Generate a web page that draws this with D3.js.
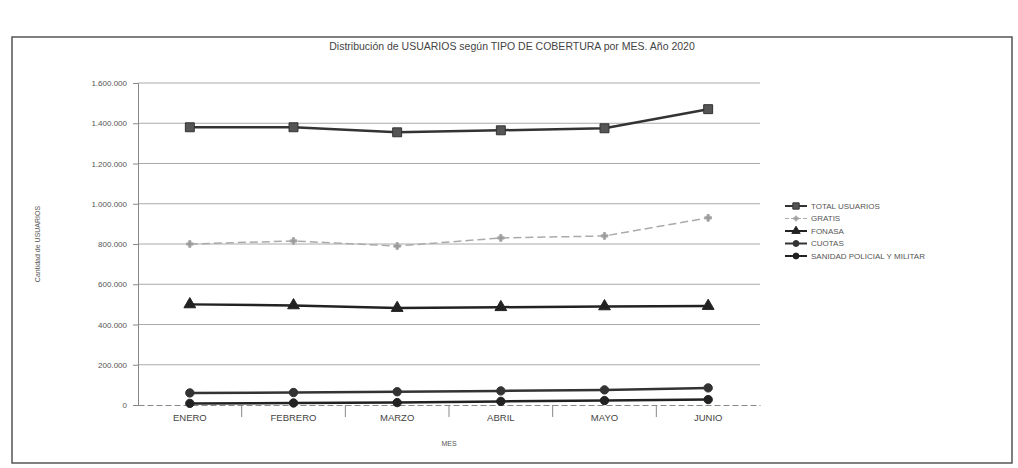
<!DOCTYPE html>
<html>
<head>
<meta charset="utf-8">
<script src="https://cdn.jsdelivr.net/npm/d3@7"></script>
<style>
  body { margin: 0; background: #fff; }
  svg { font-family: "Liberation Sans", Arial, sans-serif; }
</style>
</head>
<body>
<div id="wrapper"></div>
<script>
const months = ["ENERO", "FEBRERO", "MARZO", "ABRIL", "MAYO", "JUNIO"];
const totalUsuarios = [1380000, 1380000, 1355000, 1365000, 1375000, 1470000];
const gratis = [800000, 815000, 790000, 830000, 840000, 930000];
const fonasa = [500000, 495000, 482000, 486000, 490000, 492000];
const cuotas = [60000, 62000, 66000, 70000, 75000, 85000];
const sanidad = [8000, 10000, 12000, 18000, 22000, 27000];
const yTicks = [0, 200000, 400000, 600000, 800000, 1000000, 1200000, 1400000, 1600000];
const seriesNames = ["TOTAL USUARIOS", "GRATIS", "FONASA", "CUOTAS", "SANIDAD POLICIAL Y MILITAR"];

function drawChart() {
    const dimensions = {
        width: 1018,
        height: 468,
        margin: { top: 83, right: 258, bottom: 63, left: 138 },
    }
    dimensions.boundedWidth = dimensions.width - dimensions.margin.left - dimensions.margin.right
    dimensions.boundedHeight = dimensions.height - dimensions.margin.top - dimensions.margin.bottom

    const svg = d3.select("#wrapper")
        .append("svg")
        .attr("width", dimensions.width)
        .attr("height", dimensions.height);

    // frame of the scanned chart
    svg.append("rect")
        .attr("x", 12).attr("y", 37)
        .attr("width", 1000).attr("height", 426)
        .attr("fill", "none")
        .attr("stroke", "#555")
        .attr("stroke-width", 1.5);

    svg.append("text")
        .attr("x", 512).attr("y", 50)
        .attr("text-anchor", "middle")
        .attr("font-size", "10.5px")
        .attr("fill", "#444")
        .text("Distribución de USUARIOS según TIPO DE COBERTURA por MES. Año 2020");

    const bounds = svg.append("g")
        .attr("transform", `translate(${dimensions.margin.left},${dimensions.margin.top})`);

    const xScale = d3.scaleBand()
        .domain(months)
        .range([0, dimensions.boundedWidth]);

    const yScale = d3.scaleLinear()
        .domain([0, 1600000])
        .range([dimensions.boundedHeight, 0]);

    const locale = d3.formatLocale({ decimal: ",", thousands: ".", grouping: [3], currency: ["$", ""] });
    const fmt = locale.format(",d");

    // gridlines
    bounds.append("g")
        .selectAll("line")
        .data(yTicks.filter(d => d > 0))
        .join("line")
        .attr("x1", 0)
        .attr("x2", dimensions.boundedWidth)
        .attr("y1", d => yScale(d))
        .attr("y2", d => yScale(d))
        .attr("stroke", "#aaa")
        .attr("stroke-width", 1);

    const yAxis = bounds.append("g")
        .call(d3.axisLeft(yScale).tickValues(yTicks).tickFormat(fmt).tickSize(5).tickPadding(6));
    yAxis.select(".domain").attr("stroke", "#888");
    yAxis.selectAll(".tick line").attr("stroke", "#888");
    yAxis.selectAll("text").attr("font-size", "8px").attr("fill", "#555");

    const xAxis = bounds.append("g")
        .attr("transform", `translate(0,${dimensions.boundedHeight})`)
        .call(d3.axisBottom(xScale).tickSize(0).tickPadding(9));
    xAxis.select(".domain").attr("stroke", "#888").attr("stroke-dasharray", "6 3");
    xAxis.selectAll("text").attr("font-size", "9.5px").attr("fill", "#444");

    // separators between categories
    bounds.append("g")
        .selectAll("line")
        .data(months.slice(1))
        .join("line")
        .attr("x1", d => xScale(d))
        .attr("x2", d => xScale(d))
        .attr("y1", dimensions.boundedHeight)
        .attr("y2", dimensions.boundedHeight + 12)
        .attr("stroke", "#888");

    svg.append("text")
        .attr("x", dimensions.margin.left + dimensions.boundedWidth / 2)
        .attr("y", 446)
        .attr("text-anchor", "middle")
        .attr("font-size", "7px")
        .attr("fill", "#555")
        .text("MES");

    svg.append("text")
        .attr("transform", `translate(40,${dimensions.margin.top + dimensions.boundedHeight / 2}) rotate(-90)`)
        .attr("text-anchor", "middle")
        .attr("font-size", "7px")
        .attr("fill", "#555")
        .text("Cantidad de USUARIOS");

    const xCenter = d => xScale(d) + xScale.bandwidth() / 2;

    const series = [
        { name: seriesNames[0], values: totalUsuarios, color: "#333", width: 2.5, dash: null, symbol: d3.symbolSquare, size: 80, fill: "#555" },
        { name: seriesNames[1], values: gratis, color: "#aaa", width: 1.5, dash: "8 4", symbol: d3.symbolCross, size: 25, fill: "#999" },
        { name: seriesNames[2], values: fonasa, color: "#222", width: 2.5, dash: null, symbol: d3.symbolTriangle, size: 60, fill: "#222" },
        { name: seriesNames[3], values: cuotas, color: "#333", width: 2.5, dash: null, symbol: d3.symbolCircle, size: 55, fill: "#333" },
        { name: seriesNames[4], values: sanidad, color: "#222", width: 2.5, dash: null, symbol: d3.symbolCircle, size: 55, fill: "#222" },
    ];

    const lineGen = d3.line()
        .x((d, i) => xCenter(months[i]))
        .y(d => yScale(d));

    series.forEach(s => {
        bounds.append("path")
            .datum(s.values)
            .attr("d", lineGen)
            .attr("fill", "none")
            .attr("stroke", s.color)
            .attr("stroke-width", s.width)
            .attr("stroke-dasharray", s.dash);

        bounds.append("g")
            .selectAll("path")
            .data(s.values)
            .join("path")
            .attr("transform", (d, i) => `translate(${xCenter(months[i])},${yScale(d)})`)
            .attr("d", d3.symbol().type(s.symbol).size(s.size))
            .attr("fill", s.fill)
            .attr("stroke", s.color)
            .attr("stroke-width", 1);
    });

    // legend
    const legend = svg.append("g")
        .attr("transform", "translate(785,206)");
    const rows = legend.selectAll("g")
        .data(series)
        .join("g")
        .attr("transform", (d, i) => `translate(0,${i * 12.5})`);
    rows.append("line")
        .attr("x1", 0).attr("x2", 22)
        .attr("stroke", d => d.color)
        .attr("stroke-width", d => d.width - 0.5)
        .attr("stroke-dasharray", d => d.dash ? "4 2" : null);
    rows.append("path")
        .attr("transform", "translate(11,0)")
        .attr("d", d => d3.symbol().type(d.symbol).size(d.size * 0.5)())
        .attr("fill", d => d.fill)
        .attr("stroke", d => d.color);
    rows.append("text")
        .attr("x", 26)
        .attr("dy", "0.35em")
        .attr("font-size", "8px")
        .attr("fill", "#555")
        .text(d => d.name);
}

drawChart();
</script>
</body>
</html>
